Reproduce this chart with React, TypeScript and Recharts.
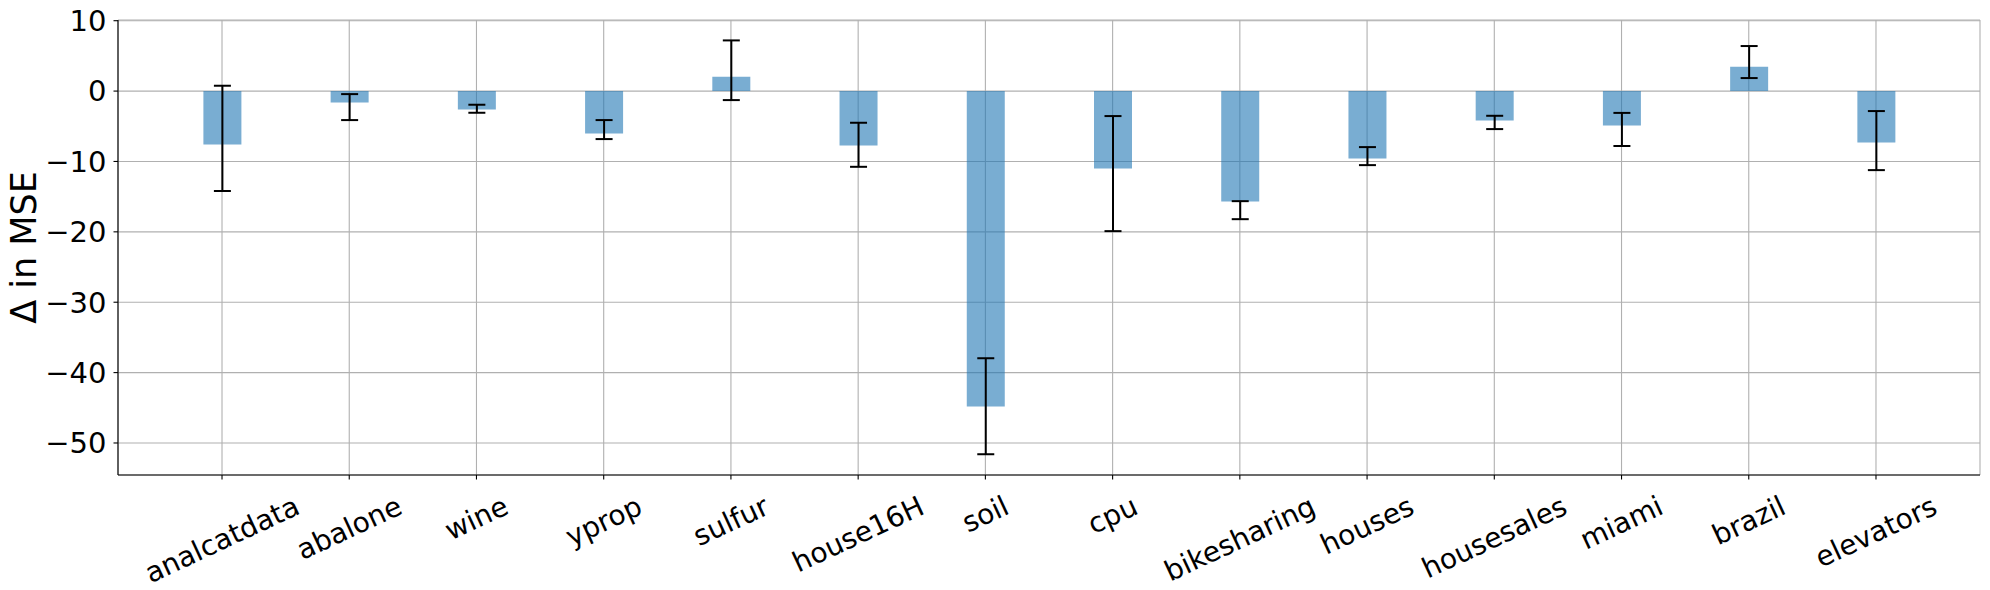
import React from 'react'
import { BarChart, Bar, XAxis, YAxis, CartesianGrid, ErrorBar } from 'recharts'

const datasets = [
  'analcatdata', 'abalone', 'wine', 'yprop', 'sulfur', 'house16H', 'soil',
  'cpu', 'bikesharing', 'houses', 'housesales', 'miami', 'brazil', 'elevators',
]
const deltaMse = [-7.58, -1.61, -2.61, -6.02, 2.04, -7.73, -44.83, -11.0, -15.69, -9.57, -4.17, -4.9, 3.46, -7.3]
const errLow = [-14.2, -4.12, -3.08, -6.82, -1.28, -10.76, -51.6, -19.9, -18.2, -10.52, -5.4, -7.8, 1.85, -11.23]
const errHigh = [0.76, -0.43, -1.94, -4.12, 7.2, -4.5, -37.96, -3.55, -15.64, -7.96, -3.51, -3.1, 6.4, -2.84]
const yTicks = [10, 0, -10, -20, -30, -40, -50]

const data = datasets.map((name, i) => ({
  name,
  delta: deltaMse[i],
  err: [deltaMse[i] - errLow[i], errHigh[i] - deltaMse[i]],
}))

const FONT = '"DejaVu Sans", sans-serif'
const X_TICK_SIZE = 28
const Y_TICK_SIZE = 29
const ANGLE = 25

let ctx: CanvasRenderingContext2D | null = null
function textWidth(text: string, size: number) {
  if (!ctx) ctx = document.createElement('canvas').getContext('2d')
  if (!ctx) return text.length * size * 0.6
  ctx.font = `${size}px "DejaVu Sans"`
  return ctx.measureText(text).width
}

function RotatedTick(props: any) {
  const { x, y, payload } = props
  const w = textWidth(payload.value, X_TICK_SIZE)
  const a = (ANGLE * Math.PI) / 180
  const boxH = w * Math.sin(a) + X_TICK_SIZE * 1.164 * Math.cos(a)
  const cy = y + 10 + boxH / 2
  return (
    <text
      x={x}
      y={cy}
      dy="0.346em"
      textAnchor="middle"
      transform={`rotate(-${ANGLE}, ${x}, ${cy})`}
      fontFamily={FONT}
      fontSize={X_TICK_SIZE}
      fill="#000"
    >
      {payload.value}
    </text>
  )
}

function YLabel(props: any) {
  const vb = props.viewBox || { y: 20, height: 455 }
  const cx = 36
  const cy = vb.y + vb.height / 2
  return (
    <text
      x={cx}
      y={cy}
      textAnchor="middle"
      transform={`rotate(-90, ${cx}, ${cy})`}
      fontFamily={FONT}
      fontSize={35}
      fill="#000"
    >
      {'\u0394 in MSE'}
    </text>
  )
}

const fmt = (v: number) => (v < 0 ? '\u2212' + Math.abs(v) : String(v))

export default function App() {
  return (
    <div style={{ position: 'absolute', left: 0, top: 0, background: '#fff' }}>
      <BarChart
        width={1990}
        height={590}
        data={data}
        margin={{ top: 20, right: 10, left: 0, bottom: 0 }}
      >
        <CartesianGrid stroke="#b0b0b0" strokeWidth={1.1} />
        <XAxis
          dataKey="name"
          height={115}
          padding={{ left: 40.4, right: 40.4 }}
          tick={<RotatedTick />}
          tickSize={4.5}
          tickMargin={0}
          tickLine={{ stroke: '#000', strokeWidth: 1.1 }}
          axisLine={{ stroke: '#000', strokeWidth: 1.1 }}
          interval={0}
        />
        <XAxis
          xAxisId="top"
          orientation="top"
          dataKey="name"
          height={0}
          tick={false}
          tickLine={false}
          axisLine={{ stroke: '#000', strokeWidth: 1.1 }}
        />
        <YAxis
          width={118}
          domain={[-54.55, 10.1]}
          ticks={yTicks}
          allowDataOverflow
          tickFormatter={fmt}
          tickSize={4.5}
          tickMargin={7}
          tick={{ fontFamily: FONT, fontSize: Y_TICK_SIZE, fill: '#000' }}
          tickLine={{ stroke: '#000', strokeWidth: 1.1 }}
          axisLine={{ stroke: '#000', strokeWidth: 1.1 }}
          label={{ content: (p: any) => <YLabel {...p} /> }}
        />
        <YAxis
          yAxisId="right"
          orientation="right"
          width={0}
          domain={[-54.55, 10.1]}
          tick={false}
          tickLine={false}
          axisLine={{ stroke: '#000', strokeWidth: 1.1 }}
        />
        <Bar dataKey="delta" fill="#1f77b4" fillOpacity={0.6} barSize={38} isAnimationActive={false}>
          <ErrorBar dataKey="err" width={8.5} stroke="#000" strokeWidth={2} />
        </Bar>
      </BarChart>
    </div>
  )
}
